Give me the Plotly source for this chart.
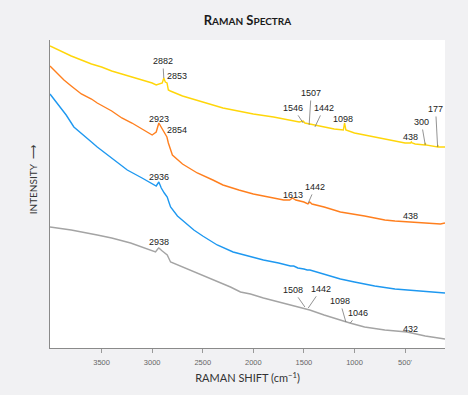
import plotly.graph_objects as go

# Spectra (wavenumber in cm-1, intensity in arbitrary units)

yellow_x = [4010, 3950, 3900, 3850, 3800, 3700, 3600, 3500, 3400, 3300, 3200, 3100, 3000, 2960, 2930,
            2900, 2885, 2870, 2853, 2840, 2820, 2700, 2500, 2300, 2100, 2000, 1800, 1600, 1546, 1507,
            1490, 1442, 1300, 1200, 1110, 1098, 1085, 1000, 900, 800, 700, 600, 500, 445, 438, 430,
            400, 305, 300, 295, 250, 180, 177, 172, 150, 105]
yellow_y = [302, 299, 297, 294, 292, 288, 284, 281, 277, 274, 271, 268, 265, 263, 264,
            265, 270, 266, 265, 258, 257, 252, 246, 240, 236, 234, 231, 227, 226, 227,
            225, 224, 221, 219, 218, 225, 218, 215, 213, 211, 209, 207, 205, 205, 206, 205,
            204, 203, 205, 203, 202, 201, 203, 201, 201, 201]

orange_x = [4010, 3950, 3872, 3800, 3700, 3600, 3543, 3400, 3300, 3200, 3100, 3000, 2960, 2934, 2900,
            2870, 2854, 2840, 2820, 2800, 2700, 2600, 2554, 2400, 2300, 2143, 2000, 1900, 1800, 1700,
            1640, 1613, 1580, 1500, 1460, 1442, 1420, 1300, 1139, 1000, 900, 800, 700, 600, 480,
            438, 300, 200, 150, 105]
orange_y = [282, 276, 268, 262, 254, 249, 245, 237, 230, 225, 219, 213, 216, 225, 219,
            213, 211, 205, 198, 193, 184, 178, 175, 168, 163, 158, 154, 152, 150, 148,
            148, 150, 148, 146, 144, 146, 144, 141, 136, 134, 132, 130, 128, 127, 126,
            126, 125, 124, 124, 125]

blue_x = [4010, 3950, 3900, 3850, 3774, 3700, 3600, 3543, 3400, 3246, 3100, 3016, 2983, 2960, 2934,
          2910, 2880, 2851, 2835, 2818, 2750, 2650, 2588, 2500, 2357, 2200, 2028, 1900, 1750, 1633,
          1600, 1560, 1500, 1467, 1440, 1300, 1139, 1000, 800, 600, 480, 300, 105]
blue_y = [254, 246, 239, 233, 221, 215, 206, 201, 190, 178, 170, 165, 163, 162, 166,
          160, 155, 151, 146, 141, 132, 123, 118, 112, 103, 96, 91, 88, 85, 82,
          82, 80, 79, 78, 78, 74, 69, 66, 62, 59, 58, 56, 55]

gray_x = [4010, 3800, 3543, 3400, 3213, 3100, 3000, 2967, 2945, 2934, 2900, 2851, 2818, 2700, 2554,
          2400, 2226, 2127, 2028, 1900, 1700, 1550, 1508, 1467, 1442, 1300, 1150, 1098, 1072, 1046,
          900, 700, 480, 432, 300, 105]
gray_y = [121, 118, 113, 110, 105, 101, 97, 96, 99, 100, 97, 93, 86, 81, 75,
          68, 61, 56, 54, 50, 45, 41, 40, 39, 38, 33, 28, 27, 26, 25,
          21, 18, 16, 15, 12, 9]

series = [
    (yellow_x, yellow_y, "#ffd60a"),
    (orange_x, orange_y, "#ff7f1e"),
    (blue_x, blue_y, "#1e98f0"),
    (gray_x, gray_y, "#a4a4a4"),
]

# Peak labels: text, where it points (wn, intensity), text offset in px, leader line or not
peak_text = ["2882", "2853", "1546", "1507", "1442", "1098", "438", "300", "177",
             "2923", "2854", "1613", "1442", "438",
             "2936",
             "2938", "1508", "1442", "1098", "1046", "432"]
peak_x = [2885, 2759, 1507, 1448, 1391, 1111, 445, 300, 178,
          2934, 2759, 1606, 1457, 445,
          2934,
          2934, 1490, 1457, 1085, 1041, 445]
peak_y = [270, 272, 225, 223, 221, 229, 211, 203, 201,
          229, 218, 153, 145, 132,
          171,
          106, 41, 40, 26, 25, 19]
peak_dx = [-1, 0, -10, 2, 9, 0, 0, -4, -2,
           0, 0, 0, 7, 0,
           0,
           0, -12, 13, -6, 8, 0]
peak_dy = [-17, 0, -15, -32, -19, 0, 0, -23, -38,
           0, 0, 0, -16, 0,
           0,
           0, -17, -19, -21, -10, 0]
peak_leader = [True, False, True, True, True, False, False, True, True,
               False, False, False, True, False,
               False,
               False, True, True, True, True, False]

fig = go.Figure()

for xs, ys, col in series:
    fig.add_trace(go.Scatter(x=xs, y=ys, mode="lines",
                             line=dict(color=col, width=1.4), showlegend=False,
                             hoverinfo="skip"))

for t, x, y, dx, dy, lead in zip(peak_text, peak_x, peak_y, peak_dx, peak_dy, peak_leader):
    if lead:
        fig.add_annotation(x=x, y=y, text=t, showarrow=True, ax=dx, ay=dy,
                           arrowhead=0, arrowwidth=0.8, arrowcolor="#777777",
                           standoff=0, startstandoff=1,
                           font=dict(family="Liberation Sans", size=9, color="#222222"))
    else:
        fig.add_annotation(x=x, y=y, text=t, showarrow=False,
                           font=dict(family="Liberation Sans", size=9, color="#222222"))

fig.add_annotation(xref="paper", yref="paper", x=-0.063, y=0.545,
                   text="INTENSITY  \u27f6", textangle=-90, showarrow=False,
                   font=dict(family="Lato", size=10, color="#333333"))

fig.update_layout(
    width=468, height=395,
    margin=dict(l=50, r=23, t=40, b=47),
    paper_bgcolor="#f1f1f3",
    plot_bgcolor="white",
    title=dict(text="R<span style='font-size:10px'>AMAN</span> S<span style='font-size:10px'>PECTRA</span>",
               x=0.5, xref="paper", xanchor="center", y=0.947, yanchor="middle",
               font=dict(family="Lato", size=13, color="#1a1a1a", weight="bold")),
    xaxis=dict(range=[4010, 105], showgrid=False, zeroline=False,
               tickvals=[3500, 3000, 2500, 2000, 1500, 1000, 500],
               ticktext=["3500", "3000", "2500", "2000", "1500", "1000", "500'"],
               ticks="outside", ticklen=4, tickcolor="#999999",
               tickfont=dict(family="Liberation Sans", size=7.5, color="#666666"),
               ticklabelstandoff=3,
               showline=True, linecolor="#8a8a8a", linewidth=1,
               title=dict(text="RAMAN SHIFT (cm<sup>\u22121</sup>)", standoff=8,
                          font=dict(family="Lato", size=11, color="#333333"))),
    yaxis=dict(range=[0, 308], showgrid=False, zeroline=False, showticklabels=False,
               ticks="", showline=True, linecolor="#8a8a8a", linewidth=1),
)

# the page's default body margin would push the figure 8px off the corner
fig.write_html("out.html", config={"displayModeBar": False},
               post_script="document.body.style.margin='0';")
